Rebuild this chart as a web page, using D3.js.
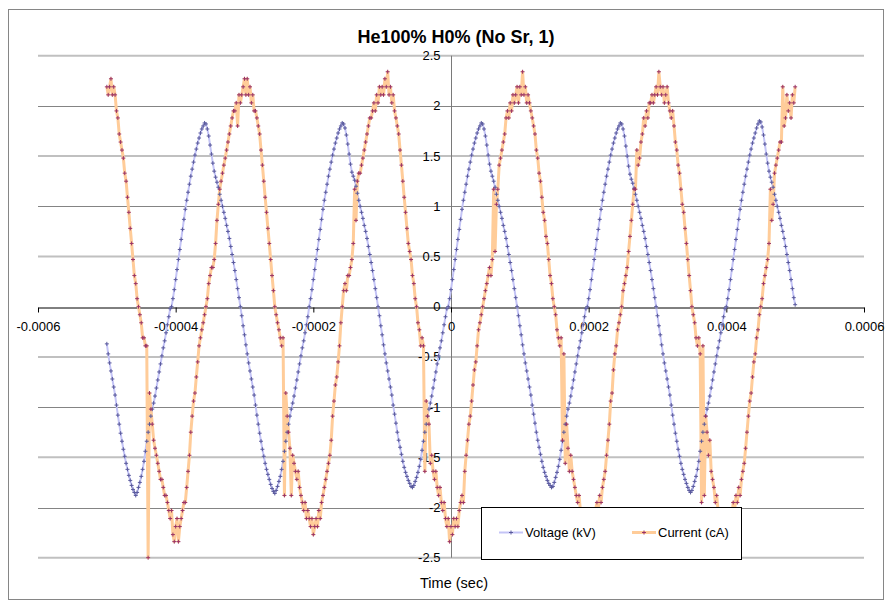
<!DOCTYPE html>
<html>
<head>
<meta charset="utf-8">
<script src="https://cdn.jsdelivr.net/npm/d3@7"></script>
<style>
  body { margin: 0; background: #fff; }
  text { font-family: Arial, "Liberation Sans", sans-serif; }
</style>
</head>
<body>
<svg id="chart" width="888" height="605"></svg>
<script>
// ---------------- data ----------------
const chartTitle = "He100% H0% (No Sr, 1)";
const xAxisTitle = "Time (sec)";
const seriesNames = ["Voltage (kV)", "Current (cA)"];
const xTickValues = [-0.0006, -0.0004, -0.0002, 0, 0.0002, 0.0004, 0.0006];
const xTickLabels = ["-0.0006", "-0.0004", "-0.0002", "0", "0.0002", "0.0004", "0.0006"];
const yTickValues = [-2.5, -2, -1.5, -1, -0.5, 0, 0.5, 1, 1.5, 2, 2.5];
const yTickLabels = ["-2.5", "-2", "-1.5", "-1", "-0.5", "0", "0.5", "1", "1.5", "2", "2.5"];
// samples every 2 microseconds from -0.0005 s
const timeStart = -0.0005;
const timeStep = 0.000002;

const voltage = [
-0.37,-0.47,-0.56,-0.64,-0.72,-0.80,-0.88,-0.98,-1.08,-1.17,-1.26,-1.34,-1.42,-1.49,-1.56,-1.62,-1.68,-1.73,-1.78,-1.82,-1.85,-1.88,-1.85,-1.80,-1.75,-1.69,-1.62,-1.54,-1.44,-1.34,-1.25,-1.17,-1.09,-1.02,-0.96,-0.89,-0.81,-0.73,-0.65,-0.57,-0.49,-0.41,-0.34,-0.26,-0.18,-0.10,-0.02,
0.00,0.08,0.17,0.27,0.37,0.47,0.57,0.67,0.77,0.87,0.97,1.06,1.14,1.22,1.30,1.37,1.44,1.51,1.57,1.63,1.68,1.73,1.77,1.80,1.83,
1.82,1.77,1.70,1.61,1.52,1.43,1.35,1.29,1.24,1.19,1.12,1.06,1.00,0.94,0.88,0.81,0.75,0.68,0.60,0.52,0.44,0.36,0.27,0.18,0.09,0.00,
-0.09,-0.19,-0.28,-0.38,-0.47,-0.56,-0.64,-0.72,-0.80,-0.88,-0.98,-1.08,-1.17,-1.26,-1.34,-1.42,-1.49,-1.56,-1.62,-1.67,-1.72,-1.77,-1.81,-1.84,-1.86,-1.83,-1.79,-1.74,-1.69,-1.62,-1.54,-1.44,-1.34,-1.25,-1.17,-1.09,-1.02,-0.96,-0.89,-0.81,-0.73,-0.65,-0.57,-0.49,-0.41,-0.34,-0.26,-0.18,-0.10,
0.00,0.08,0.17,0.27,0.37,0.47,0.57,0.67,0.77,0.87,0.97,1.06,1.14,1.22,1.30,1.37,1.44,1.51,1.57,1.63,1.68,1.73,1.77,1.80,1.83,
1.82,1.78,1.71,1.62,1.52,1.42,1.34,1.30,1.26,1.20,1.13,1.06,1.00,0.94,0.88,0.81,0.75,0.68,0.60,0.52,0.44,0.36,0.27,0.18,0.09,0.00,
-0.09,-0.19,-0.28,-0.38,-0.47,-0.56,-0.64,-0.72,-0.80,-0.88,-0.98,-1.07,-1.16,-1.25,-1.33,-1.40,-1.47,-1.54,-1.60,-1.65,-1.69,-1.73,-1.76,-1.79,-1.80,-1.78,-1.74,-1.70,-1.65,-1.59,-1.52,-1.43,-1.34,-1.25,-1.17,-1.09,-1.02,-0.96,-0.89,-0.81,-0.73,-0.65,-0.57,-0.49,-0.41,-0.34,-0.26,-0.18,-0.10,-0.02,
0.00,0.08,0.17,0.27,0.37,0.47,0.57,0.67,0.77,0.87,0.97,1.06,1.14,1.22,1.30,1.37,1.44,1.51,1.57,1.63,1.68,1.73,1.77,1.80,1.83,
1.82,1.77,1.70,1.61,1.51,1.42,1.35,1.30,1.25,1.19,1.12,1.06,1.00,0.94,0.88,0.81,0.75,0.68,0.60,0.52,0.44,0.36,0.27,0.18,0.09,0.00,
-0.09,-0.19,-0.28,-0.38,-0.47,-0.56,-0.64,-0.72,-0.80,-0.88,-0.98,-1.07,-1.16,-1.25,-1.33,-1.40,-1.47,-1.54,-1.60,-1.65,-1.69,-1.73,-1.76,-1.78,-1.80,-1.79,-1.75,-1.70,-1.65,-1.59,-1.52,-1.43,-1.34,-1.25,-1.17,-1.09,-1.02,-0.96,-0.89,-0.81,-0.73,-0.65,-0.57,-0.49,-0.41,-0.34,-0.26,-0.18,-0.10,-0.02,
0.00,0.08,0.17,0.27,0.37,0.47,0.57,0.67,0.77,0.87,0.97,1.06,1.14,1.22,1.30,1.37,1.44,1.51,1.57,1.63,1.68,1.73,1.77,1.80,1.83,
1.82,1.77,1.70,1.60,1.50,1.40,1.32,1.27,1.23,1.18,1.12,1.06,1.00,0.94,0.88,0.81,0.75,0.68,0.60,0.52,0.44,0.36,0.27,0.18,0.09,0.00,
-0.09,-0.19,-0.28,-0.38,-0.47,-0.56,-0.64,-0.72,-0.80,-0.88,-0.98,-1.08,-1.17,-1.26,-1.34,-1.42,-1.49,-1.56,-1.62,-1.67,-1.72,-1.76,-1.80,-1.83,-1.85,-1.83,-1.79,-1.74,-1.69,-1.62,-1.54,-1.44,-1.34,-1.25,-1.17,-1.09,-1.02,-0.96,-0.89,-0.81,-0.73,-0.65,-0.57,-0.49,-0.41,-0.34,-0.26,-0.18,-0.10,-0.02,
0.00,0.08,0.17,0.27,0.37,0.47,0.57,0.67,0.77,0.87,0.97,1.06,1.14,1.22,1.30,1.37,1.44,1.51,1.57,1.63,1.68,1.73,1.78,1.82,1.85,
1.84,1.79,1.71,1.62,1.52,1.43,1.35,1.29,1.24,1.19,1.12,1.06,1.00,0.94,0.88,0.81,0.75,0.68,0.60,0.52,0.44,0.36,0.27,0.18,0.09,0.02
];

const current = [
2.19,2.11,2.19,2.27,2.11,2.19,2.11,1.95,1.88,1.72,1.64,1.56,1.48,1.33,1.25,1.09,0.94,0.78,0.63,0.47,0.31,0.23,0.08,0.00,
-0.08,-0.16,-0.31,-0.31,-0.39,-0.39,-2.50,-0.86,-1.02,-1.17,-1.33,-1.41,-1.48,-1.56,-1.64,-1.72,-1.72,-1.80,-1.88,-1.88,-1.95,-2.03,-2.11,-2.03,-2.27,-2.34,-2.19,-2.11,-2.34,-2.19,-2.11,-2.03,-1.95,-1.95,-1.80,-1.64,-1.48,-1.25,-1.09,-0.94,-0.86,-0.70,-0.55,-0.39,-0.31,-0.23,-0.16,-0.08,0.00,
0.08,0.23,0.31,0.39,0.39,0.47,0.63,0.86,1.02,1.17,1.25,1.33,1.41,1.48,1.56,1.64,1.72,1.80,1.88,1.95,1.95,2.03,1.80,2.11,2.03,2.11,2.19,2.27,2.11,2.27,2.11,2.19,2.03,2.11,1.95,1.95,1.88,1.80,1.72,1.56,1.41,1.25,1.09,0.94,0.78,0.63,0.47,0.31,0.16,0.00,
-0.08,-0.16,-0.23,-0.31,-0.39,-0.31,-1.88,-0.86,-1.09,-1.25,-1.41,-1.88,-1.48,-1.56,-1.64,-1.72,-1.64,-1.80,-1.88,-1.95,-2.03,-1.95,-2.11,-2.03,-2.11,-2.19,-2.11,-2.27,-2.19,-2.11,-2.19,-2.03,-2.11,-1.95,-1.88,-1.80,-1.72,-1.64,-1.56,-1.48,-1.33,-1.09,-0.94,-0.78,-0.70,-0.55,-0.39,-0.16,0.00,
0.16,0.23,0.16,0.31,0.31,0.39,0.47,0.63,1.17,0.86,1.25,1.33,1.33,1.41,1.48,1.56,1.64,1.72,1.80,1.88,1.88,1.95,2.03,1.95,2.11,2.03,2.19,2.11,2.19,2.11,2.27,2.19,2.34,2.11,2.19,2.03,2.11,1.95,1.88,1.80,1.72,1.56,1.41,1.25,1.09,0.94,0.78,0.63,0.55,0.47,0.31,0.23,0.08,0.00,
-0.16,-0.23,-0.39,-0.31,-0.39,-1.64,-0.94,-1.09,-1.17,-1.56,-1.48,-1.64,-1.72,-1.64,-1.80,-1.88,-1.80,-1.95,-2.03,-1.95,-2.11,-2.19,-2.11,-2.34,-2.19,-2.27,-2.11,-2.19,-2.11,-2.19,-2.03,-1.95,-1.88,-1.95,-1.64,-1.48,-1.33,-1.17,-1.09,-0.94,-0.78,-0.63,-0.55,-0.39,-0.23,-0.16,-0.08,0.00,
0.08,0.16,0.23,0.31,0.39,0.31,0.47,1.17,0.55,1.02,1.17,1.41,1.48,1.56,1.64,1.72,1.88,1.95,1.88,2.03,1.95,2.11,2.03,2.11,2.19,2.03,2.19,2.11,2.34,2.11,2.19,2.03,2.11,2.03,1.95,1.88,1.80,1.72,1.56,1.48,1.33,1.25,1.09,0.94,0.86,0.70,0.63,0.47,0.31,0.23,0.08,0.00,
-0.08,-0.23,-0.31,-0.39,-0.31,-1.33,-0.47,-1.56,-1.17,-1.41,-1.64,-1.48,-1.64,-1.72,-1.80,-1.88,-1.95,-1.88,-2.03,-2.11,-2.03,-2.19,-2.11,-2.27,-2.19,-2.11,-2.27,-2.19,-2.11,-2.03,-1.95,-2.03,-1.88,-1.95,-1.80,-1.72,-1.64,-1.48,-1.33,-1.17,-0.94,-0.86,-0.63,-0.47,-0.39,-0.23,-0.16,-0.08,0.00,
0.16,0.23,0.31,0.39,0.55,0.70,0.86,1.02,1.17,1.17,1.56,1.41,1.48,1.64,1.72,1.88,1.80,1.95,1.88,2.03,2.03,2.11,2.03,2.11,2.19,2.11,2.34,2.19,2.11,2.19,2.03,2.11,2.19,2.03,1.95,1.88,1.95,1.80,1.64,1.56,1.41,1.33,1.17,1.02,0.94,0.78,0.63,0.47,0.31,0.16,0.00,
-0.08,-0.16,-0.31,-0.39,-0.31,-0.47,-1.95,-0.39,-1.88,-1.09,-1.25,-1.48,-1.33,-1.64,-1.72,-1.80,-1.95,-1.88,-2.03,-2.11,-2.03,-2.19,-2.11,-2.27,-2.19,-2.11,-2.19,-2.03,-2.11,-1.95,-2.03,-1.88,-1.95,-1.80,-1.88,-1.72,-1.64,-1.56,-1.41,-1.25,-1.09,-0.94,-0.86,-0.70,-0.55,-0.47,-0.31,-0.23,-0.08,0.00,
0.08,0.23,0.31,0.39,0.47,0.63,1.17,0.86,1.02,1.33,1.41,1.48,1.56,1.64,1.64,2.19,1.80,1.88,2.11,1.95,2.03,1.88,2.11,2.03,2.19
];

// ---------------- drawing ----------------
const svg = d3.select("#chart");
const plot = { left: 38, right: 864, top: 55.7, bottom: 557.7 };

const x = d3.scaleLinear().domain([xTickValues[0], xTickValues[xTickValues.length - 1]]).range([plot.left, plot.right]);
const y = d3.scaleLinear().domain([yTickValues[0], yTickValues[yTickValues.length - 1]]).range([plot.bottom, plot.top]);

// chart area border
svg.append("rect")
  .attr("x", 8.5).attr("y", 9.5).attr("width", 875).attr("height", 590)
  .attr("fill", "#fff").attr("stroke", "#868686").attr("stroke-width", 1);

// horizontal gridlines
svg.append("g").selectAll("line").data(yTickValues.filter(v => v !== 0)).join("line")
  .attr("x1", plot.left).attr("x2", plot.right)
  .attr("y1", d => Number.isInteger(d) ? Math.round(y(d)) + 0.5 : y(d))
  .attr("y2", d => Number.isInteger(d) ? Math.round(y(d)) + 0.5 : y(d))
  .attr("stroke", d => Number.isInteger(d) ? "#848484" : "#c0c0c0")
  .attr("stroke-width", d => Number.isInteger(d) ? 1 : 2);

// y axis (at x = 0)
const x0 = Math.round(x(0)) + 0.5;
svg.append("line").attr("x1", x0).attr("x2", x0).attr("y1", plot.top).attr("y2", plot.bottom)
  .attr("stroke", "#7a7a7a").attr("stroke-width", 1);
svg.append("g").selectAll("text").data(yTickValues).join("text")
  .attr("x", x0 - 11).attr("y", d => y(d)).attr("dy", "0.35em")
  .attr("text-anchor", "end").attr("font-size", 13).attr("fill", "#000")
  .text((d, i) => yTickLabels[i]);

// x axis (at y = 0)
const y0 = Math.round(y(0)) + 0.5;
const xAxis = d3.axisBottom(x).tickValues(xTickValues)
  .tickFormat((d, i) => xTickLabels[i]).tickSizeInner(5).tickSizeOuter(0).tickPadding(9);
const gx = svg.append("g").attr("transform", `translate(0,${y0})`).call(xAxis);
gx.select(".domain").attr("stroke", "#000");
gx.selectAll(".tick line").attr("stroke", "#000");
gx.selectAll(".tick text").attr("font-size", 13).attr("fill", "#000")
  .attr("font-family", "Arial, 'Liberation Sans', sans-serif");

// series
const tx = i => x(timeStart + i * timeStep);
const line = d3.line().x((d, i) => tx(i)).y(d => y(d));

svg.append("path").datum(voltage).attr("d", line)
  .attr("fill", "none").attr("stroke", "#c4c4f6").attr("stroke-width", 2).attr("stroke-linejoin", "round");
svg.append("path").datum(current).attr("d", line)
  .attr("fill", "none").attr("stroke", "#ffcc99").attr("stroke-width", 3).attr("stroke-linejoin", "round");

function plusMarks(data, s) {
  return data.map((d, i) => {
    const px = tx(i), py = y(d);
    return `M${px - s},${py}h${2 * s}M${px},${py - s}v${2 * s}`;
  }).join("");
}
svg.append("path").attr("d", plusMarks(voltage, 2))
  .attr("fill", "none").attr("stroke", "#5a5a9c").attr("stroke-width", 1);
svg.append("path").attr("d", plusMarks(current, 2))
  .attr("fill", "none").attr("stroke", "#993366").attr("stroke-width", 1);

// title
svg.append("text").attr("x", 456).attr("y", 43).attr("text-anchor", "middle")
  .attr("font-size", 18).attr("font-weight", "bold").attr("fill", "#000").text(chartTitle);

// x axis title
svg.append("text").attr("x", 454).attr("y", 588).attr("text-anchor", "middle")
  .attr("font-size", 14.5).attr("fill", "#000").text(xAxisTitle);

// legend
const lg = svg.append("g");
lg.append("rect").attr("x", 481.5).attr("y", 507.5).attr("width", 260).attr("height", 52)
  .attr("fill", "#fff").attr("stroke", "#000").attr("stroke-width", 1);
const legendItems = [
  { name: seriesNames[0], x: 499, line: "#c4c4f6", lw: 2, mark: "#5a5a9c" },
  { name: seriesNames[1], x: 632, line: "#ffcc99", lw: 3, mark: "#993366" }
];
const ly = 532.5;
legendItems.forEach(it => {
  lg.append("line").attr("x1", it.x).attr("x2", it.x + 24).attr("y1", ly).attr("y2", ly)
    .attr("stroke", it.line).attr("stroke-width", it.lw);
  const cx = it.x + 12;
  lg.append("path").attr("d", `M${cx - 2},${ly}h4M${cx},${ly - 2}v4`)
    .attr("stroke", it.mark).attr("stroke-width", 1).attr("fill", "none");
  lg.append("text").attr("x", it.x + 26).attr("y", ly).attr("dy", "0.35em")
    .attr("font-size", 13).attr("fill", "#000").text(it.name);
});
</script>
</body>
</html>
